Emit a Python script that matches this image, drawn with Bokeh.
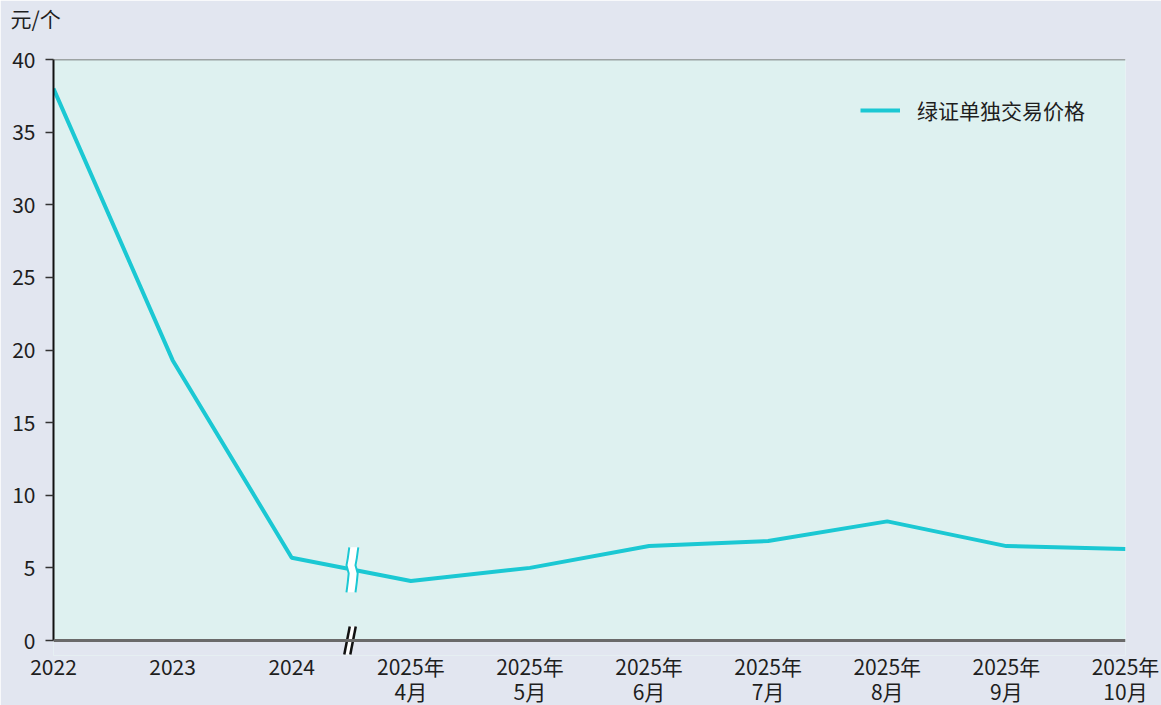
from bokeh.plotting import figure
from bokeh.models import Range1d, FixedTicker, Span, Legend, LegendItem, Title
from bokeh.embed import file_html
from bokeh.resources import INLINE

# ---- data ----
categories = ["2022", "2023", "2024", "2025年\n4月", "2025年\n5月", "2025年\n6月",
              "2025年\n7月", "2025年\n8月", "2025年\n9月", "2025年\n10月"]
prices = [38.0, 19.3, 5.7, 4.1, 5.0, 6.5, 6.85, 8.2, 6.5, 6.3]
series_name = "绿证单独交易价格"
unit_label = "元/个"
y_ticks = [0, 5, 10, 15, 20, 25, 30, 35, 40]

FONT = "Noto Sans CJK SC"
FS = "21px"
LINE_COLOR = "#1BC8D3"
BG = "#E2E6F0"
PLOT_BG = "#DEF1F0"
TEXT = "#1E1E1E"

FW = 1072          # frame width (px)
PH = 581           # height of 0..40 (px)
EXT = 15           # extra frame px below zero, for the axis break mark
XMAX = len(categories) - 1
YMAX = 40
dxu = XMAX / FW
dyu = YMAX / PH
YMIN = -EXT * dyu

xs = list(range(len(categories)))

p = figure(frame_width=FW, frame_height=PH + EXT, output_backend="svg", toolbar_location=None,
           x_range=Range1d(0, XMAX), y_range=Range1d(YMIN, YMAX),
           min_border_left=53, min_border_right=1161 - 53 - FW, min_border_top=59,
           min_border_bottom=705 - 59 - PH - EXT)
p.background_fill_color = PLOT_BG
p.border_fill_color = BG
p.outline_line_color = None
p.grid.visible = False

# paint the strip below zero with the page colour
p.quad(left=0, right=XMAX, bottom=YMIN, top=0, fill_color=BG, line_color=None)

# y axis
p.yaxis.ticker = FixedTicker(ticks=y_ticks)
p.yaxis.bounds = (0, YMAX)
p.yaxis.axis_line_color = "#111111"
p.yaxis.axis_line_width = 2
p.yaxis.major_tick_line_color = "#333333"
p.yaxis.major_tick_line_width = 1.5
p.yaxis.major_tick_out = 8
p.yaxis.major_tick_in = 0
p.yaxis.minor_tick_line_color = None
p.yaxis.major_label_standoff = 10
p.yaxis.major_label_text_font = FONT
p.yaxis.major_label_text_font_size = FS
p.yaxis.major_label_text_color = TEXT

# x axis (line drawn as a span at zero)
p.xaxis.ticker = FixedTicker(ticks=xs)
p.xaxis.major_label_overrides = {i: c for i, c in enumerate(categories)}
p.xaxis.axis_line_color = None
p.xaxis.major_tick_line_color = None
p.xaxis.minor_tick_line_color = None
p.xaxis.major_label_standoff = -11
p.xaxis.major_label_text_font = FONT
p.xaxis.major_label_text_font_size = FS
p.xaxis.major_label_text_color = TEXT
p.xaxis.major_label_text_line_height = 0.86

p.add_layout(Span(location=0, dimension="width", line_color="#6A6A6A", line_width=3))
p.add_layout(Span(location=YMAX, dimension="width", line_color="#555555", line_width=1.5))

# main line
r = p.line(xs, prices, line_color=LINE_COLOR, line_width=4)

# break marker on the line (between 2024 and 2025)
bx = 2.5
by = (prices[2] + prices[3]) / 2 - 1 * dyu
curve = [(-2.0, -23), (-3.5, -12), (-4.8, -5), (-2.6, 3), (-3.5, 12), (-4.8, 22)]
gap = 9
left_x = [bx + c[0] * dxu for c in curve]
ys_c = [by - c[1] * dyu for c in curve]
right_x = [bx + (c[0] + gap) * dxu for c in curve]
p.patch(left_x + right_x[::-1], ys_c + ys_c[::-1], fill_color="white", line_color=None)
p.line(left_x, ys_c, line_color=LINE_COLOR, line_width=2)
p.line(right_x, ys_c, line_color=LINE_COLOR, line_width=2)

# axis break "//"
l1 = [(-7, 14), (-1.5, -14)]
l2 = [(-1, 14), (4.5, -14)]
def to_data(pt):
    return bx + pt[0] * dxu, -pt[1] * dyu
poly = [to_data(l1[0]), to_data(l1[1]), to_data(l2[1]), to_data(l2[0])]
p.patch([q[0] for q in poly], [q[1] for q in poly], fill_color="white", line_color=None)
for seg in (l1, l2):
    a, b = to_data(seg[0]), to_data(seg[1])
    p.line([a[0], b[0]], [a[1], b[1]], line_color="#111111", line_width=2.5)

# unit label (second blank line lifts it toward the top edge)
p.add_layout(Title(text=unit_label + "\n ", align="left", offset=-43, standoff=0,
                   vertical_align="top", text_line_height=0.83,
                   text_font=FONT, text_font_size=FS, text_color=TEXT,
                   text_font_style="normal"), "above")

# legend
legend = Legend(items=[LegendItem(label=series_name, renderers=[r])],
                location=(807, PH + EXT - 51 - 15), background_fill_alpha=0,
                border_line_color=None, glyph_width=40, glyph_height=26, label_standoff=17,
                padding=0, margin=0, label_text_font=FONT, label_text_font_size=FS,
                label_text_color=TEXT)
p.add_layout(legend)

open("out.html", "w").write(file_html(p, INLINE))
